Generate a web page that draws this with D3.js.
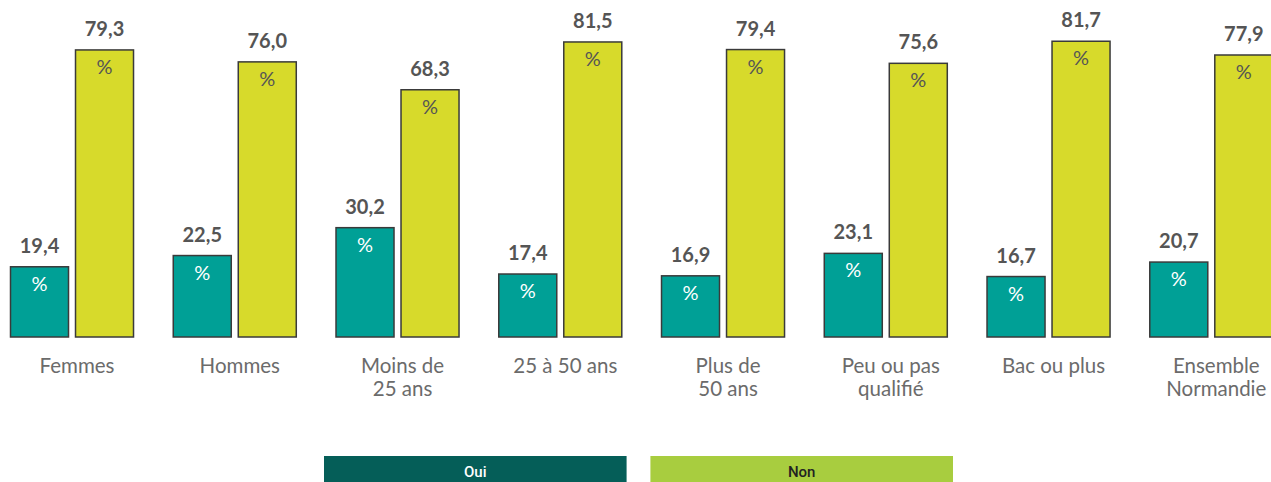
<!DOCTYPE html>
<html>
<head>
<meta charset="utf-8">
<script src="https://cdn.jsdelivr.net/npm/d3@7"></script>
<style>
  body { margin: 0; background: #fff; }
  svg { display: block; font-family: Lato, "Open Sans", sans-serif; }
</style>
</head>
<body>
<svg id="chart" width="1271" height="482"></svg>
<script>
// categories (line breaks marked with |)
const categories = ["Femmes", "Hommes", "Moins de|25 ans", "25 à 50 ans", "Plus de|50 ans", "Peu ou pas|qualifié", "Bac ou plus", "Ensemble|Normandie"];
const series = ["Oui", "Non"];
const ouiValues = [19.4, 22.5, 30.2, 17.4, 16.9, 23.1, 16.7, 20.7];
const nonValues = [79.3, 76.0, 68.3, 81.5, 79.4, 75.6, 81.7, 77.9];

const barColors = { Oui: "#00a096", Non: "#d7da2b" };
const pctColors = { Oui: "#ffffff", Non: "#555555" };
const legendColors = { Oui: "#055e58", Non: "#a8cd3f" };
const legendText = { Oui: "#ffffff", Non: "#222222" };

function drawChart() {
  const svg = d3.select("#chart");
  const baseY = 337;

  const rows = categories.map((c, i) => ({ cat: c, Oui: ouiValues[i], Non: nonValues[i] }));

  // outer band for groups, inner band for Oui / Non
  const x0 = d3.scaleBand().domain(categories).range([10, 1273.3]).paddingInner(0.238).paddingOuter(0);
  const x1 = d3.scaleBand().domain(series).range([0, x0.bandwidth()]).paddingInner(0.0923);
  const y = d3.scaleLinear().domain([0, 100]).range([baseY, -25]);

  const fmt = (v) => v.toFixed(1).replace(".", ",");

  const groups = svg.append("g")
    .selectAll("g")
    .data(rows)
    .join("g")
    .attr("transform", (d) => "translate(" + x0(d.cat) + ",0)");

  const bars = groups.selectAll("g.bar")
    .data((d) => series.map((s) => ({ key: s, value: d[s] })))
    .join("g")
    .attr("class", "bar");

  bars.append("rect")
    .attr("x", (d) => x1(d.key) + 0.5)
    .attr("y", (d) => y(d.value))
    .attr("width", x1.bandwidth() - 1)
    .attr("height", (d) => baseY - y(d.value))
    .attr("fill", (d) => barColors[d.key])
    .attr("stroke", "#3a3a3a")
    .attr("stroke-width", 1.5);

  // value above the bar
  bars.append("text")
    .attr("x", (d) => x1(d.key) + x1.bandwidth() / 2)
    .attr("y", (d) => y(d.value) - 14)
    .attr("text-anchor", "middle")
    .attr("font-size", "20px")
    .attr("font-weight", "bold")
    .attr("fill", "#555555")
    .text((d) => fmt(d.value));

  // % sign inside the bar
  bars.append("text")
    .attr("x", (d) => x1(d.key) + x1.bandwidth() / 2)
    .attr("y", (d) => y(d.value) + 24)
    .attr("text-anchor", "middle")
    .attr("font-size", "20px")
    .attr("fill", (d) => pctColors[d.key])
    .text("%");

  // category labels via axis
  const axis = svg.append("g")
    .attr("transform", "translate(5," + baseY + ")")
    .call(d3.axisBottom(x0).tickSize(0).tickFormat(""));
  axis.select(".domain").remove();
  axis.attr("font-family", null).attr("font-size", null);

  axis.selectAll(".tick").append("text")
    .attr("text-anchor", "middle")
    .attr("font-family", "Lato, sans-serif")
    .attr("font-size", "20.5px")
    .attr("fill", "#6b6b6b")
    .attr("y", 36)
    .each(function (d) {
      const lines = d.split("|");
      const t = d3.select(this);
      lines.forEach((ln, i) => {
        t.append("tspan").attr("x", 0).attr("dy", i === 0 ? 0 : 23).text(ln);
      });
    });

  // legend
  const legX = d3.scaleBand().domain(series).range([324, 953]).paddingInner(0.073);
  const leg = svg.append("g")
    .selectAll("g")
    .data(series)
    .join("g");
  leg.append("rect")
    .attr("x", (d) => legX(d))
    .attr("y", 456)
    .attr("width", legX.bandwidth())
    .attr("height", 30)
    .attr("fill", (d) => legendColors[d]);
  leg.append("text")
    .attr("x", (d) => legX(d) + legX.bandwidth() / 2)
    .attr("y", 477)
    .attr("text-anchor", "middle")
    .attr("font-size", "15px")
    .attr("font-weight", "500")
    .attr("font-family", "Roboto, sans-serif")
    .attr("fill", (d) => legendText[d])
    .text((d) => d);
}

drawChart();
</script>
</body>
</html>
